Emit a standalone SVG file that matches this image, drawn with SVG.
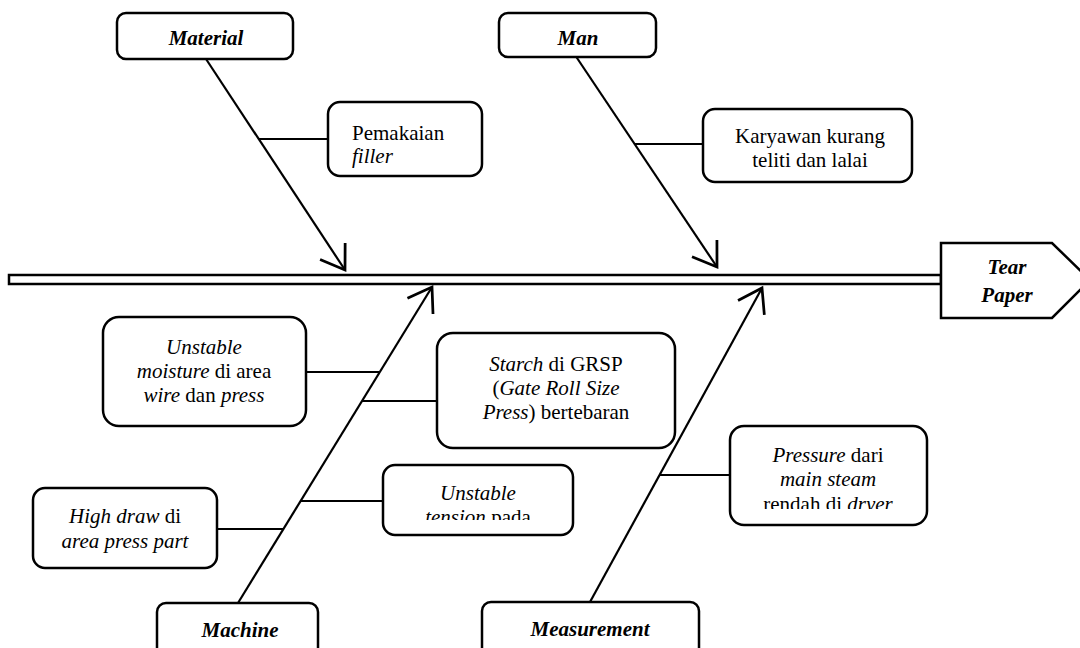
<svg xmlns="http://www.w3.org/2000/svg" width="1080" height="648" viewBox="0 0 1080 648">
<style>
.box{fill:#fff;stroke:#000;stroke-width:2.5}
.ln{stroke:#000;stroke-width:2.2;fill:none}
.t{font-family:"Liberation Serif","Times New Roman",serif;font-size:21px;fill:#000}
.c{text-anchor:middle}
.h{font-weight:bold;font-style:italic}
.i{font-style:italic}
</style>
<defs>
<marker id="arr" markerUnits="userSpaceOnUse" markerWidth="40" markerHeight="40" viewBox="-22 -16 26 32" refX="0" refY="0" orient="auto">
<path d="M-18,-12 L0,0 L-18,12" fill="none" stroke="#000" stroke-width="2.2"/>
</marker>
<clipPath id="cpT"><rect x="383" y="465" width="190" height="55"/></clipPath>
<clipPath id="cpP"><rect x="730" y="426" width="197" height="83"/></clipPath>
<clipPath id="cpS"><rect x="437" y="333" width="238" height="91"/></clipPath>
</defs>
<rect width="1080" height="648" fill="#fff"/>

<g id="spine">
<rect x="9" y="275" width="932" height="9" class="box"/>
</g>

<g id="connectors">
<line x1="206" y1="59" x2="345" y2="270" class="ln" marker-end="url(#arr)"/>
<line x1="575" y1="55" x2="717" y2="267" class="ln" marker-end="url(#arr)"/>
<line x1="238" y1="603" x2="432" y2="287" class="ln" marker-end="url(#arr)"/>
<line x1="590" y1="602" x2="762" y2="288" class="ln" marker-end="url(#arr)"/>
<line x1="259" y1="139" x2="328" y2="139" class="ln"/>
<line x1="635" y1="144" x2="703" y2="144" class="ln"/>
<line x1="306" y1="372" x2="379" y2="372" class="ln"/>
<line x1="362" y1="401" x2="437" y2="401" class="ln"/>
<line x1="301" y1="501" x2="383" y2="501" class="ln"/>
<line x1="217" y1="529" x2="283" y2="529" class="ln"/>
<line x1="660" y1="475" x2="730" y2="475" class="ln"/>
</g>

<g id="material">
<rect x="117" y="13" width="176" height="46" rx="9" class="box"/>
<text x="206" y="45" class="t c h">Material</text>
</g>
<g id="man">
<rect x="499" y="13" width="157" height="44" rx="9" class="box"/>
<text x="578" y="45" class="t c h">Man</text>
</g>
<g id="pemakaian">
<rect x="328" y="102" width="154" height="74" rx="12" class="box"/>
<text x="352" y="140" class="t">Pemakaian</text>
<text x="352" y="163" class="t i">filler</text>
</g>
<g id="karyawan">
<rect x="703" y="109" width="209" height="73" rx="12" class="box"/>
<text x="810" y="143" class="t c">Karyawan kurang</text>
<text x="810" y="167" class="t c">teliti dan lalai</text>
</g>
<g id="tear-paper">
<polygon points="941,243 1052,243 1090,280 1052,318 941,318" class="box"/>
<text x="1007" y="274" class="t c h">Tear</text>
<text x="1007" y="302" class="t c h">Paper</text>
</g>
<g id="moisture">
<rect x="103" y="317" width="203" height="109" rx="16" class="box"/>
<text x="204" y="354" class="t c i">Unstable</text>
<text x="204" y="378" class="t c"><tspan class="i">moisture</tspan> di area</text>
<text x="204" y="402" class="t c"><tspan class="i">wire</tspan> dan <tspan class="i">press</tspan></text>
</g>
<g id="starch">
<rect x="437" y="333" width="238" height="115" rx="16" class="box"/>
<g clip-path="url(#cpS)">
<text x="556" y="371" class="t c"><tspan class="i">Starch</tspan> di GRSP</text>
<text x="556" y="395" class="t c">(<tspan class="i">Gate Roll Size</tspan></text>
<text x="556" y="419" class="t c"><tspan class="i">Press</tspan>) bertebaran</text>
</g>
</g>
<g id="tension">
<rect x="383" y="465" width="190" height="70" rx="12" class="box"/>
<text x="478" y="500" class="t c i">Unstable</text>
<g clip-path="url(#cpT)">
<text x="478" y="524" class="t c"><tspan class="i">tension</tspan> pada</text>
</g>
</g>
<g id="highdraw">
<rect x="33" y="488" width="184" height="80" rx="12" class="box"/>
<text x="125" y="523" class="t c"><tspan class="i">High draw</tspan> di</text>
<text x="125" y="548" class="t c i">area press part</text>
</g>
<g id="pressure">
<rect x="730" y="426" width="197" height="99" rx="14" class="box"/>
<text x="828" y="462" class="t c"><tspan class="i">Pressure</tspan> dari</text>
<text x="828" y="486" class="t c i">main steam</text>
<g clip-path="url(#cpP)">
<text x="828" y="511" class="t c">rendah di <tspan class="i">dryer</tspan></text>
</g>
</g>
<g id="machine">
<rect x="157" y="603" width="161" height="60" rx="9" class="box"/>
<text x="240" y="637" class="t c h">Machine</text>
</g>
<g id="measurement">
<rect x="482" y="602" width="217" height="60" rx="9" class="box"/>
<text x="590" y="636" class="t c h">Measurement</text>
</g>
</svg>
